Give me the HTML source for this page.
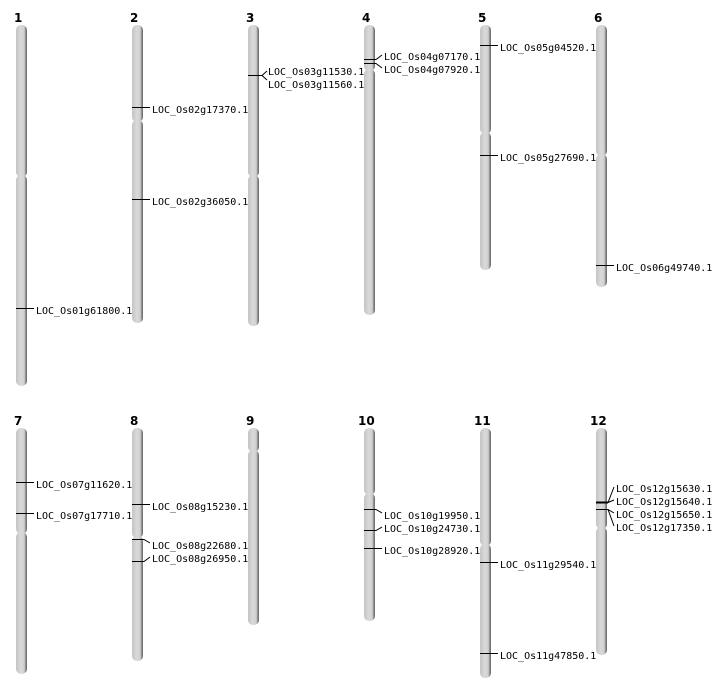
<!DOCTYPE html>
<html><head><meta charset="utf-8"><style>
body{margin:0;background:#fff}
svg{display:block}
text{font-family:"DejaVu Sans Mono","Liberation Mono",monospace;font-size:10px;fill:#000}
.n{font-family:"DejaVu Sans","Liberation Sans",sans-serif;font-weight:bold;font-size:12px}
.m{stroke:#000;stroke-width:1;fill:none}
</style></head><body>
<svg width="712" height="700" viewBox="0 0 712 700" xmlns="http://www.w3.org/2000/svg">
<defs>
<linearGradient id="g" x1="0" x2="1" y1="0" y2="0">
<stop offset="0" stop-color="#c4c4c4"/>
<stop offset="0.45" stop-color="#dadada"/>
<stop offset="0.75" stop-color="#cfcfcf"/>
<stop offset="0.88" stop-color="#8a8a8a"/>
<stop offset="1" stop-color="#666"/>
</linearGradient>
</defs>
<g fill="url(#g)">
<rect x="16" y="25" width="11" height="152" rx="5"/><rect x="16" y="175" width="11" height="211" rx="5"/>
<rect x="132" y="25" width="11" height="97" rx="5"/><rect x="132" y="120" width="11" height="203" rx="5"/>
<rect x="248" y="25" width="11" height="152" rx="5"/><rect x="248" y="175" width="11" height="151" rx="5"/>
<rect x="364" y="25" width="11" height="46" rx="5"/><rect x="364" y="69" width="11" height="246" rx="5"/>
<rect x="480" y="25" width="11" height="109" rx="5"/><rect x="480" y="132" width="11" height="138" rx="5"/>
<rect x="596" y="25" width="11" height="131" rx="5"/><rect x="596" y="154" width="11" height="133" rx="5"/>
<rect x="16" y="428" width="11" height="106" rx="5"/><rect x="16" y="532" width="11" height="142" rx="5"/>
<rect x="132" y="428" width="11" height="110" rx="5"/><rect x="132" y="536" width="11" height="125" rx="5"/>
<rect x="248" y="428" width="11" height="24" rx="5"/><rect x="248" y="450" width="11" height="175" rx="5"/>
<rect x="364" y="428" width="11" height="67" rx="5"/><rect x="364" y="493" width="11" height="128" rx="5"/>
<rect x="480" y="428" width="11" height="118" rx="5"/><rect x="480" y="544" width="11" height="134" rx="5"/>
<rect x="596" y="428" width="11" height="101" rx="5"/><rect x="596" y="527" width="11" height="128" rx="5"/>
</g>
<g>
<text class="n" x="14" y="22">1</text><text class="n" x="130" y="22">2</text><text class="n" x="246" y="22">3</text>
<text class="n" x="362" y="22">4</text><text class="n" x="478" y="22">5</text><text class="n" x="594" y="22">6</text>
<text class="n" x="14" y="425">7</text><text class="n" x="130" y="425">8</text><text class="n" x="246" y="425">9</text>
<text class="n" x="358" y="425">10</text><text class="n" x="474" y="425">11</text><text class="n" x="590" y="425">12</text>
</g>
<g class="m">
<path d="M16 308.5H34"/>
<path d="M132 107.5H150"/><path d="M132 199.5H150"/>
<path d="M248 75.5H262L267 71M262 75.5L267 80"/>
<path d="M364 59.5H376L382 55M364 63.5H376L382 68"/>
<path d="M480 45.5H498"/><path d="M480 155.5H498"/>
<path d="M596 265.5H614"/>
<path d="M16 482.5H34"/><path d="M16 513.5H34"/>
<path d="M132 504.5H150"/><path d="M132 539.5H144L150 543"/><path d="M132 561.5H144L150 557"/>
<path d="M364 509.5H376L382 513"/><path d="M364 530.5H376L382 527"/><path d="M364 548.5H382"/>
<path d="M480 562.5H498"/><path d="M480 653.5H498"/>
<path d="M596 502.5H608L614 487M608 502.5L614 500M596 509.5H608L614 513M608 509.5L614 526"/>
<path d="M596 502.5H608" stroke-width="2"/>
</g>
<g>
<text x="36" y="314">LOC_Os01g61800.1</text>
<text x="152" y="113">LOC_Os02g17370.1</text><text x="152" y="205">LOC_Os02g36050.1</text>
<text x="268" y="75">LOC_Os03g11530.1</text><text x="268" y="88">LOC_Os03g11560.1</text>
<text x="384" y="60">LOC_Os04g07170.1</text><text x="384" y="73">LOC_Os04g07920.1</text>
<text x="500" y="51">LOC_Os05g04520.1</text><text x="500" y="161">LOC_Os05g27690.1</text>
<text x="616" y="271">LOC_Os06g49740.1</text>
<text x="36" y="488">LOC_Os07g11620.1</text><text x="36" y="519">LOC_Os07g17710.1</text>
<text x="152" y="510">LOC_Os08g15230.1</text><text x="152" y="549">LOC_Os08g22680.1</text><text x="152" y="562">LOC_Os08g26950.1</text>
<text x="384" y="519">LOC_Os10g19950.1</text><text x="384" y="532">LOC_Os10g24730.1</text><text x="384" y="554">LOC_Os10g28920.1</text>
<text x="500" y="568">LOC_Os11g29540.1</text><text x="500" y="659">LOC_Os11g47850.1</text>
<text x="616" y="492">LOC_Os12g15630.1</text><text x="616" y="505">LOC_Os12g15640.1</text><text x="616" y="518">LOC_Os12g15650.1</text><text x="616" y="531">LOC_Os12g17350.1</text>
</g>
</svg>
</body></html>
